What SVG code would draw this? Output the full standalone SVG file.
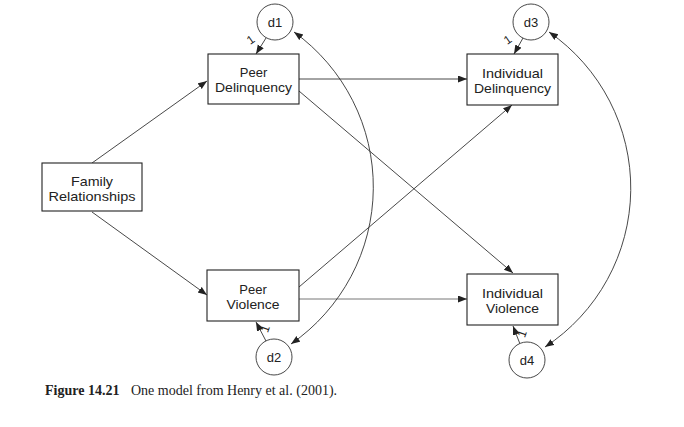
<svg xmlns="http://www.w3.org/2000/svg" width="684" height="427" viewBox="0 0 684 427">
<style>
.box{fill:#fff;stroke:#222;stroke-width:1.1}
.circ{fill:#fff;stroke:#333;stroke-width:0.9}
.lbl{font-family:"Liberation Sans",Arial,sans-serif;font-size:13px;fill:#222;text-anchor:middle}
.one{font-family:"Liberation Sans",Arial,sans-serif;font-size:12px;fill:#222;text-anchor:middle}
.ln{fill:none;stroke:#333;stroke-width:0.9;marker-end:url(#ah)}
.arc{fill:none;stroke:#333;stroke-width:0.9;marker-start:url(#ah);marker-end:url(#ah)}
.cap{font-family:"Liberation Serif","Times New Roman",serif;font-size:14px;fill:#222}
</style>
<defs>
<marker id="ah" markerUnits="userSpaceOnUse" markerWidth="10" markerHeight="8" refX="9" refY="3.5" orient="auto-start-reverse">
<path d="M0,0 L9,3.5 L0,7 z" fill="#222"/>
</marker>
</defs>
<rect width="684" height="427" fill="#fff"/>
<g id="connectors">
<line class="ln" x1="92" y1="163" x2="207" y2="81"/>
<line class="ln" x1="92" y1="212" x2="207" y2="295"/>
<line class="ln" x1="299" y1="79" x2="467" y2="79"/>
<line class="ln" x1="299" y1="91" x2="513" y2="273"/>
<line class="ln" x1="299" y1="287" x2="512" y2="105"/>
<line class="ln" x1="299" y1="299" x2="467" y2="299" style="stroke:#666"/>
<line class="ln" x1="266" y1="38" x2="256" y2="54"/>
<line class="ln" x1="523" y1="38" x2="514" y2="54"/>
<line class="ln" x1="266" y1="341" x2="256" y2="322"/>
<line class="ln" x1="520" y1="344" x2="513" y2="326"/>
<path class="arc" d="M294,32 A191 191 0 0 1 291,344"/>
<path class="arc" d="M549,32 A190 190 0 0 1 545,347"/>
<text class="one" transform="translate(253,43) rotate(-35)">1</text>
<text class="one" transform="translate(510,43) rotate(-35)">1</text>
<text class="one" transform="translate(269,330) rotate(-70)">1</text>
<text class="one" transform="translate(526,335) rotate(-70)">1</text>
</g>
<g id="family">
<rect class="box" x="42" y="163" width="100" height="48"/>
<text class="lbl" x="92" y="186" textLength="42" lengthAdjust="spacingAndGlyphs">Family</text>
<text class="lbl" x="92" y="201" textLength="87" lengthAdjust="spacingAndGlyphs">Relationships</text>
</g>
<g id="peer-delinquency">
<rect class="box" x="208" y="54" width="91" height="50"/>
<text class="lbl" x="253.5" y="77">Peer</text>
<text class="lbl" x="253.5" y="92" textLength="77" lengthAdjust="spacingAndGlyphs">Delinquency</text>
</g>
<g id="peer-violence">
<rect class="box" x="207" y="270" width="92" height="51"/>
<text class="lbl" x="253" y="294">Peer</text>
<text class="lbl" x="253" y="309" textLength="53" lengthAdjust="spacingAndGlyphs">Violence</text>
</g>
<g id="individual-delinquency">
<rect class="box" x="467" y="54" width="91" height="51"/>
<text class="lbl" x="512.5" y="78" textLength="61" lengthAdjust="spacingAndGlyphs">Individual</text>
<text class="lbl" x="512.5" y="93" textLength="77" lengthAdjust="spacingAndGlyphs">Delinquency</text>
</g>
<g id="individual-violence">
<rect class="box" x="467" y="274" width="91" height="51"/>
<text class="lbl" x="512.5" y="298" textLength="61" lengthAdjust="spacingAndGlyphs">Individual</text>
<text class="lbl" x="512.5" y="313" textLength="53" lengthAdjust="spacingAndGlyphs">Violence</text>
</g>
<g id="d1"><circle class="circ" cx="275" cy="22" r="18"/><text class="lbl" x="275" y="27">d1</text></g>
<g id="d2"><circle class="circ" cx="274" cy="357" r="18"/><text class="lbl" x="274" y="362">d2</text></g>
<g id="d3"><circle class="circ" cx="531" cy="22" r="18"/><text class="lbl" x="531" y="27">d3</text></g>
<g id="d4"><circle class="circ" cx="527" cy="360" r="18"/><text class="lbl" x="527" y="365">d4</text></g>
<text class="cap" x="45" y="395"><tspan font-weight="bold">Figure 14.21</tspan><tspan x="131">One model from Henry et al. (2001).</tspan></text>
</svg>
